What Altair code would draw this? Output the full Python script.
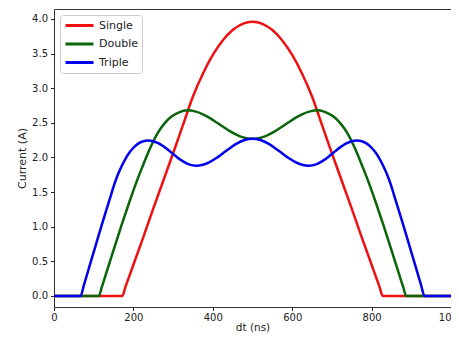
import altair as alt
import pandas as pd

series_names = ["Single", "Double", "Triple"]
series_colors = ["#ee1111", "#0a640a", "#0000ee"]

single_x = [0, 172, 180, 200, 225, 250, 275, 300, 325, 350, 375, 400, 425, 450, 475, 500,
            525, 550, 575, 600, 625, 650, 675, 700, 725, 750, 775, 800, 820, 828, 1000]
single_y = [0, 0, 0.13, 0.45, 0.85, 1.26, 1.66, 2.06, 2.47, 2.88, 3.21, 3.48, 3.69, 3.84, 3.93, 3.96,
            3.93, 3.84, 3.69, 3.48, 3.21, 2.88, 2.47, 2.06, 1.66, 1.26, 0.85, 0.45, 0.13, 0, 0]

double_x = [0, 113, 120, 130, 150, 170, 190, 210, 223, 235, 249, 260, 270, 283, 296, 315, 335,
            355, 375, 392, 410, 425, 445, 467, 485, 500,
            515, 533, 555, 575, 590, 608, 625, 645, 665, 685, 704, 717, 730, 740, 751, 765,
            777, 790, 810, 830, 850, 870, 880, 887, 1000]
double_y = [0, 0, 0.12, 0.30, 0.66, 1.02, 1.36, 1.68, 1.87, 2.04, 2.22, 2.34, 2.43, 2.52, 2.59, 2.65, 2.68,
            2.665, 2.623, 2.571, 2.504, 2.446, 2.372, 2.309, 2.278, 2.27,
            2.278, 2.309, 2.372, 2.446, 2.504, 2.571, 2.623, 2.665, 2.68, 2.65, 2.59, 2.52, 2.43, 2.34,
            2.22, 2.04, 1.87, 1.68, 1.36, 1.02, 0.66, 0.30, 0.12, 0, 0]

triple_x = [0, 67, 75, 90, 105, 120, 140, 150, 160, 170, 180, 190, 200, 212, 225, 237, 250, 265,
            287, 305, 321, 340, 358, 375, 392, 409, 425, 442, 460, 480, 500,
            520, 540, 558, 575, 591, 608, 625, 642, 660, 679, 695, 713, 735, 750, 763, 775,
            788, 800, 810, 820, 830, 840, 850, 860, 880, 895, 910, 925, 933, 1000]
triple_y = [0, 0, 0.15, 0.44, 0.73, 1.02, 1.39, 1.58, 1.74, 1.87, 1.98, 2.07, 2.14, 2.20, 2.235, 2.245,
            2.235, 2.199, 2.112, 2.027, 1.958, 1.90, 1.88, 1.894, 1.933, 1.991, 2.058, 2.13, 2.199, 2.251, 2.27,
            2.251, 2.199, 2.13, 2.058, 1.991, 1.933, 1.894, 1.88, 1.90, 1.958, 2.027, 2.112, 2.199, 2.235,
            2.245, 2.235, 2.20, 2.14, 2.07, 1.98, 1.87, 1.74, 1.58, 1.39, 1.02, 0.73, 0.44, 0.15, 0, 0]

x_ticks = [0, 200, 400, 600, 800, 1000]
y_ticks = [0.0, 0.5, 1.0, 1.5, 2.0, 2.5, 3.0, 3.5, 4.0]

rows = []
for name, xs, ys in [("Single", single_x, single_y),
                     ("Double", double_x, double_y),
                     ("Triple", triple_x, triple_y)]:
    for i, (a, b) in enumerate(zip(xs, ys)):
        rows.append({"series": name, "dt": a, "current": b, "order": i})
df = pd.DataFrame(rows)

FONT = "DejaVu Sans"

chart = alt.Chart(df).mark_line(strokeWidth=2.5, interpolate="monotone", clip=True).encode(
    x=alt.X("dt:Q", scale=alt.Scale(domain=[0, 1000], nice=False, zero=False),
            axis=alt.Axis(title="dt (ns)", values=x_ticks, format="d", grid=False,
                          domain=False, tickSize=3.5, tickColor="#222", labelColor="#222",
                          labelFontSize=10, labelFont=FONT, labelPadding=1.5,
                          titleFont=FONT, titleFontSize=10.5, titleFontWeight="normal",
                          titleColor="#222", titlePadding=0, labelFlush=False)),
    y=alt.Y("current:Q", scale=alt.Scale(domain=[-0.16, 4.144], nice=False, zero=False),
            axis=alt.Axis(title="Current (A)", values=y_ticks, format=".1f", grid=False,
                          domain=False, tickSize=3.5, tickColor="#222", labelColor="#222",
                          labelFontSize=10, labelFont=FONT, labelPadding=3,
                          titleFont=FONT, titleFontSize=11, titleFontWeight="normal",
                          titleColor="#222", titlePadding=4)),
    color=alt.Color("series:N",
                    scale=alt.Scale(domain=series_names, range=series_colors),
                    legend=alt.Legend(orient="none", legendX=6, legendY=6, title=None,
                                      symbolType="M-1,0H4.6", symbolSize=100,
                                      symbolStrokeWidth=3, labelFontSize=11, labelFont=FONT,
                                      labelColor="#222", labelOffset=22, padding=4,
                                      rowPadding=5.5, strokeColor="#cccccc",
                                      fillColor="white", cornerRadius=3)),
    order="order:Q",
).properties(
    width=397, height=298,
    autosize=alt.AutoSizeParams(type="none"),
    padding={"left": 46, "top": 1, "right": 0, "bottom": 26},
).configure_view(stroke="#333333", strokeWidth=1)

chart.save("out.html", embed_options={"renderer": "svg", "actions": False})
